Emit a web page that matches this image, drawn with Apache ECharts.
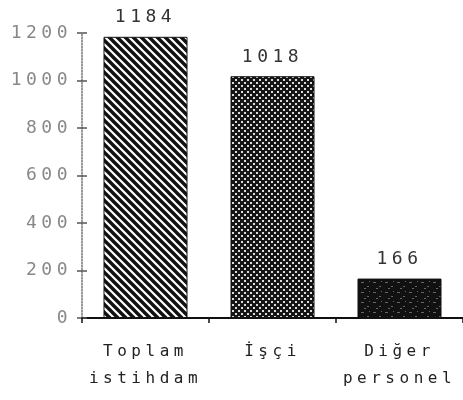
<!DOCTYPE html>
<html>
<head>
<meta charset="utf-8">
<script src="https://cdn.jsdelivr.net/npm/echarts@6/dist/echarts.min.js"></script>
<style>html,body{margin:0;padding:0;background:#fff}#c{width:463px;height:400px}</style>
</head>
<body>
<div id="c"></div>
<script>
var categories = ['Toplam\nistihdam', 'İşçi', 'Diğer\npersonel'];
var values = [1184, 1018, 166];
var yTicks = [0, 200, 400, 600, 800, 1000, 1200];

// letter spacing for the dot-matrix look
(function(){
  var orig = CanvasRenderingContext2D.prototype.fillText;
  CanvasRenderingContext2D.prototype.fillText = function(){
    try { this.letterSpacing = '4.5px'; } catch(e) {}
    var r = orig.apply(this, arguments);
    try { this.letterSpacing = '0px'; } catch(e) {}
    return r;
  };
})();

function makeTile(w, h, draw){
  var c = document.createElement('canvas');
  c.width = w; c.height = h;
  var g = c.getContext('2d');
  draw(g, w, h);
  return c;
}
var hatch = makeTile(8, 8, function(g, w, h){
  g.fillStyle = '#fff'; g.fillRect(0,0,w,h);
  g.strokeStyle = '#111'; g.lineWidth = 3.4;
  for (var k = -2; k <= 2; k++){
    g.beginPath(); g.moveTo(k*8 - 2, -2); g.lineTo(k*8 + w + 2, h + 2); g.stroke();
  }
});
var dots = makeTile(6, 6, function(g, w, h){
  g.fillStyle = '#151515'; g.fillRect(0,0,w,h);
  g.fillStyle = '#dcdcdc';
  g.fillRect(1,1,2,2);
  g.fillRect(4,4,2,2);
});
var dark = makeTile(12, 10, function(g, w, h){
  g.fillStyle = '#111'; g.fillRect(0,0,w,h);
  g.fillStyle = '#666';
  g.fillRect(1,2,3,1); g.fillRect(7,6,2,1); g.fillRect(4,8,2,1); g.fillRect(9,1,1,1);
});
var patterns = [hatch, dots, dark];

var chart = echarts.init(document.getElementById('c'), null, {renderer: 'canvas'});
var font = 'DejaVu Sans Mono';
chart.setOption({
  animation: false,
  grid: {left: 82, right: -2, top: 33, bottom: 82},
  xAxis: {
    type: 'category',
    data: categories,
    boundaryGap: true,
    axisLine: {lineStyle: {color: '#111', width: 2}},
    axisTick: {show: true, length: 5, lineStyle: {color: '#111', width: 1.5}},
    axisLabel: {fontFamily: font, fontSize: 16, color: '#222', margin: 20, lineHeight: 27}
  },
  yAxis: [{
    type: 'value',
    min: 0, max: 1200, interval: 200,
    splitLine: {show: false},
    axisLine: {show: true, lineStyle: {color: '#777', type: 'dotted', width: 1.5}},
    axisTick: {show: true, length: 5, lineStyle: {color: '#555', width: 1.5}},
    axisLabel: {fontFamily: font, fontSize: 18, color: '#888', margin: 10,
      formatter: function(v){ return yTicks.indexOf(v) >= 0 ? String(v) : ''; }}
  }, {
    type: 'value', position: 'left', offset: 0,
    min: 0, max: 1200, interval: 200,
    splitLine: {show: false},
    axisLine: {show: false},
    axisTick: {show: true, inside: true, length: 5, lineStyle: {color: '#555', width: 1.5}},
    axisLabel: {show: false}
  }],
  series: [{
    type: 'bar',
    barWidth: 84,
    data: values.map(function(v, i){
      return {value: v, itemStyle: {color: {image: patterns[i], repeat: 'repeat'}, borderColor: '#111', borderWidth: 1}};
    }),
    label: {show: true, position: 'top', distance: 10, fontFamily: font, fontSize: 18, color: '#333'}
  }]
});
</script>
</body>
</html>
